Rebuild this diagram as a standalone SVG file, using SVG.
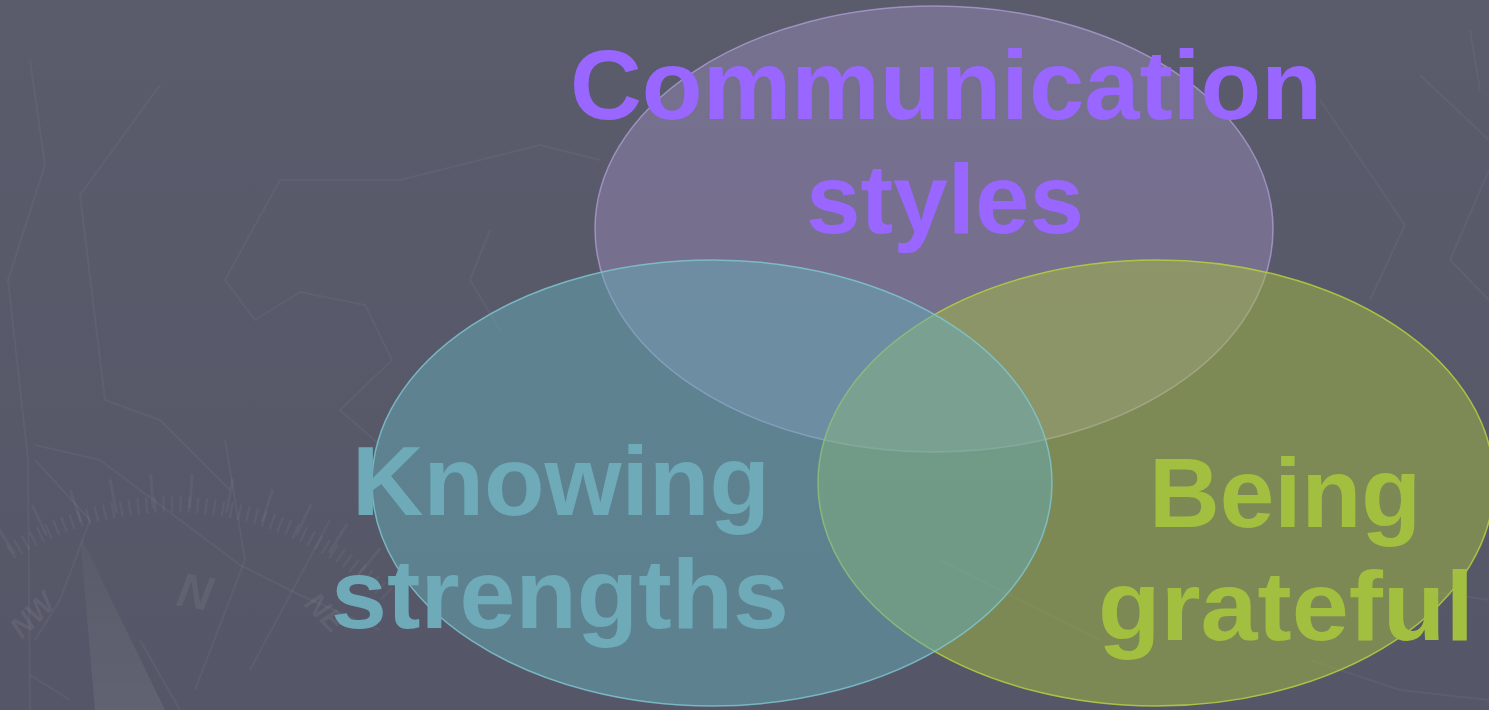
<svg xmlns="http://www.w3.org/2000/svg" width="1489" height="710" viewBox="0 0 1489 710">
  <defs>
    <linearGradient id="bg" x1="0" y1="0" x2="0" y2="1">
      <stop offset="0" stop-color="#5a5b6b"/>
      <stop offset="1" stop-color="#555667"/>
    </linearGradient>
    <linearGradient id="needle" x1="0" y1="0" x2="0" y2="1">
      <stop offset="0" stop-color="#ffffff" stop-opacity="0.02"/>
      <stop offset="1" stop-color="#ffffff" stop-opacity="0.07"/>
    </linearGradient>
  </defs>
  <style>
    .deco { fill: none; stroke: #ffffff; stroke-opacity: 0.045; stroke-width: 2; stroke-linejoin: round; }
    .ticks { fill: none; stroke: #ffffff; stroke-opacity: 0.045; stroke-width: 16; stroke-dasharray: 2.5 6; }
    .ticks-long { fill: none; stroke: #ffffff; stroke-opacity: 0.045; stroke-width: 34; stroke-dasharray: 3 36; }
    .compass-txt { font-family: "Liberation Sans", Arial, sans-serif; font-weight: bold; font-style: italic; fill: #ffffff; fill-opacity: 0.07; }
    .circle { stroke-width: 1.5; }
    .purple { fill: #9486b4; fill-opacity: 0.5; stroke: #b4a4dc; stroke-opacity: 0.7; }
    .teal { fill: #66acb8; fill-opacity: 0.5; stroke: #80c8d2; stroke-opacity: 0.8; }
    .green { fill: #a4bc42; fill-opacity: 0.5; stroke: #b4d040; stroke-opacity: 0.85; }
    .label { font-family: "Liberation Sans", Arial, sans-serif; font-weight: bold; font-size: 98px; text-anchor: middle; }
  </style>

  <rect width="1489" height="710" fill="url(#bg)"/>

  <g id="background-decoration">
    <polyline class="deco" points="30,60 45,165 8,280 28,460 30,710"/>
    <polyline class="deco" points="160,85 80,195 105,400 160,420 230,490"/>
    <polyline class="deco" points="280,180 225,280 255,320 300,292 365,305 392,360 340,410 380,445"/>
    <polyline class="deco" points="280,180 400,180 540,145 600,160"/>
    <polyline class="deco" points="490,230 470,280 500,330"/>
    <polyline class="deco" points="35,460 90,520 60,600 35,640"/>
    <polyline class="deco" points="35,445 100,460 240,565 300,595 380,630"/>
    <polyline class="deco" points="225,440 245,560 195,690"/>
    <polyline class="deco" points="30,675 70,700"/>
    <polyline class="deco" points="140,640 180,710"/>
    <polyline class="deco" points="330,520 250,670"/>
    <polyline class="deco" points="1470,30 1480,90"/>
    <polyline class="deco" points="1420,75 1489,140"/>
    <polyline class="deco" points="1320,100 1405,225 1370,300"/>
    <polyline class="deco" points="1489,170 1450,260 1489,300"/>
    <polyline class="deco" points="1420,590 1489,600"/>
    <polyline class="deco" points="1310,660 1400,690 1489,700"/>
    <polyline class="deco" points="940,560 1100,640"/>
    <path class="ticks" d="M 10,552 A 300 300 0 0 1 390,598"/>
    <path class="ticks-long" d="M 4,540 A 310 310 0 0 1 395,585"/>
    <polygon points="80,535 95,710 165,710" fill="url(#needle)"/>
    <text class="compass-txt" font-size="48" transform="translate(175,605) rotate(10)">N</text>
    <text class="compass-txt" font-size="30" transform="translate(22,640) rotate(-45)">NW</text>
    <text class="compass-txt" font-size="30" transform="translate(303,605) rotate(45)">NE</text>
  </g>

  <g id="connectors"></g>

  <g id="node-communication">
    <ellipse class="circle purple" cx="934" cy="229" rx="339" ry="223"/>
    <text class="label" fill="#9966ff" x="946" y="119" textLength="752" lengthAdjust="spacingAndGlyphs">Communication</text>
    <text class="label" fill="#9966ff" x="945" y="233">styles</text>
  </g>

  <g id="node-grateful">
    <ellipse class="circle green" cx="1156" cy="483" rx="338" ry="223"/>
    <text class="label" fill="#a3bf3f" x="1285" y="527">Being</text>
    <text class="label" fill="#a3bf3f" x="1286" y="640" textLength="376" lengthAdjust="spacingAndGlyphs">grateful</text>
  </g>

  <g id="node-knowing">
    <ellipse class="circle teal" cx="712" cy="483" rx="340" ry="223"/>
    <text class="label" fill="#6eaab8" x="561" y="515" textLength="418" lengthAdjust="spacingAndGlyphs">Knowing</text>
    <text class="label" fill="#6eaab8" x="560" y="628" textLength="458" lengthAdjust="spacingAndGlyphs">strengths</text>
  </g>
</svg>
